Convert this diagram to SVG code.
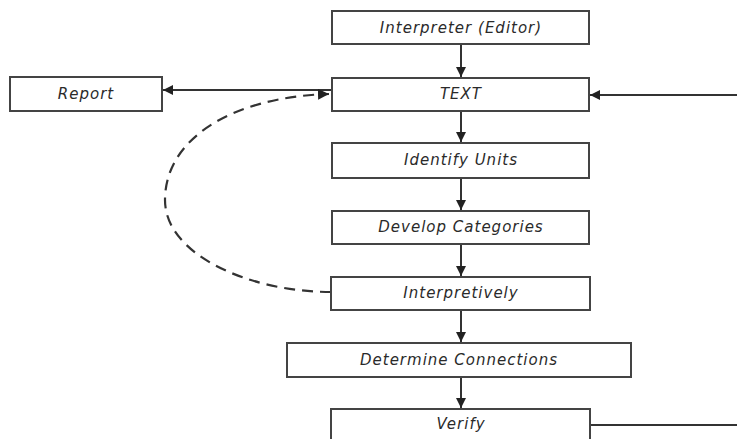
<svg xmlns="http://www.w3.org/2000/svg" width="737" height="439" viewBox="0 0 737 439">
<style>
.box{fill:#fff;stroke:#444;stroke-width:2}
.lbl{font-family:"DejaVu Sans","Open Sans",sans-serif;font-style:italic;font-size:15px;letter-spacing:1px;fill:#2a2a2a;text-anchor:middle;dominant-baseline:central}
.ln{fill:none;stroke:#333;stroke-width:2}
.dash{fill:none;stroke:#333;stroke-width:2.2;stroke-dasharray:11 7}
</style>
<defs>
<marker id="ah" viewBox="0 0 10 10" refX="10" refY="5" markerWidth="5" markerHeight="5" orient="auto" markerUnits="strokeWidth">
<path d="M0,0 L10,5 L0,10 z" fill="#222"/>
</marker>
</defs>
<rect width="737" height="439" fill="#fff"/>
<g id="connectors">
<line class="ln" x1="461" y1="44" x2="461" y2="77" marker-end="url(#ah)"/>
<line class="ln" x1="461" y1="111" x2="461" y2="142" marker-end="url(#ah)"/>
<line class="ln" x1="461" y1="178" x2="461" y2="210" marker-end="url(#ah)"/>
<line class="ln" x1="461" y1="244" x2="461" y2="276" marker-end="url(#ah)"/>
<line class="ln" x1="461" y1="310" x2="461" y2="342" marker-end="url(#ah)"/>
<line class="ln" x1="461" y1="377" x2="461" y2="408" marker-end="url(#ah)"/>
<line class="ln" x1="331" y1="90" x2="163" y2="90" marker-end="url(#ah)"/>
<line class="ln" x1="737" y1="95" x2="590" y2="95" marker-end="url(#ah)"/>
<line class="ln" x1="590" y1="425" x2="737" y2="425"/>
<path class="dash" d="M331,292 C250,292 165,255 165,200 C165,140 230,97 329,94" marker-end="url(#ah)"/>
</g>
<g id="interpreter"><rect class="box" x="332" y="11" width="257" height="33"/><text class="lbl" x="461" y="27.5">Interpreter (Editor)</text></g>
<g id="text"><rect class="box" x="332" y="78" width="257" height="33"/><text class="lbl" x="461" y="94">TEXT</text></g>
<g id="report"><rect class="box" x="10" y="77" width="152" height="34"/><text class="lbl" x="86" y="93.5">Report</text></g>
<g id="identify"><rect class="box" x="332" y="143" width="257" height="35"/><text class="lbl" x="461" y="160">Identify Units</text></g>
<g id="develop"><rect class="box" x="332" y="211" width="257" height="33"/><text class="lbl" x="461" y="227">Develop Categories</text></g>
<g id="interpretively"><rect class="box" x="331" y="277" width="259" height="33"/><text class="lbl" x="461" y="293">Interpretively</text></g>
<g id="determine"><rect class="box" x="287" y="343" width="344" height="34"/><text class="lbl" x="459" y="359.5">Determine Connections</text></g>
<g id="verify"><rect class="box" x="331" y="409" width="259" height="40"/><text class="lbl" x="461" y="424">Verify</text></g>
</svg>
